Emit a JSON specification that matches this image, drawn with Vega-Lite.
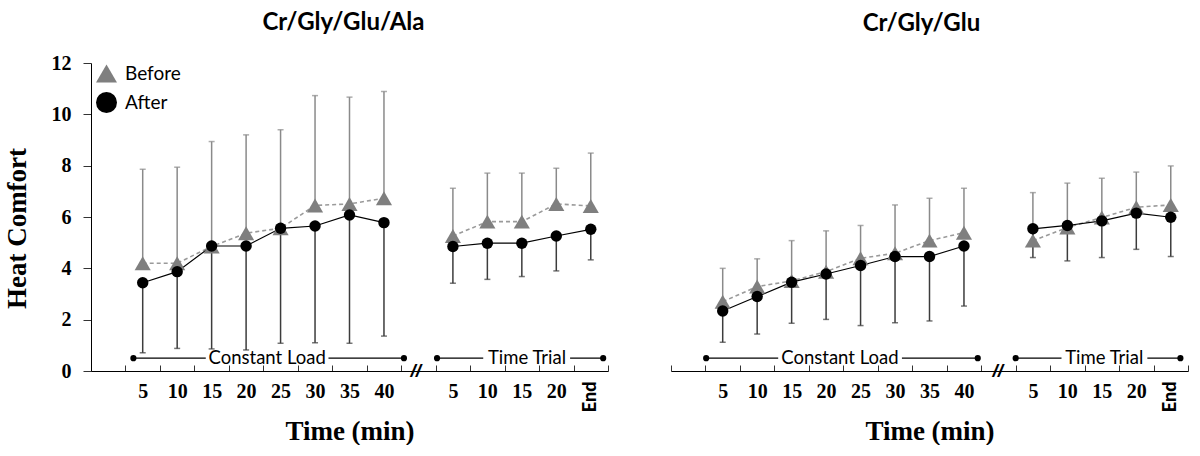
{
  "$schema": "https://vega.github.io/schema/vega-lite/v6.json",
  "background": "white",
  "padding": {"left": 3, "top": 11, "right": 5, "bottom": 0},
  "config": {
    "view": {"stroke": null},
    "concat": {"spacing": 61},
    "title": {"font": "Lato", "fontSize": 24, "fontWeight": "bold", "color": "#000000"}
  },
  "datasets": {
    "pts": [
      {"panel": "A", "phase": "CL", "slot": 1.5, "series": "Before", "mean": 4.2, "err": 7.86},
      {"panel": "A", "phase": "CL", "slot": 2.5, "series": "Before", "mean": 4.2, "err": 7.94},
      {"panel": "A", "phase": "CL", "slot": 3.5, "series": "Before", "mean": 4.85, "err": 8.94},
      {"panel": "A", "phase": "CL", "slot": 4.5, "series": "Before", "mean": 5.37, "err": 9.2},
      {"panel": "A", "phase": "CL", "slot": 5.5, "series": "Before", "mean": 5.56, "err": 9.4},
      {"panel": "A", "phase": "CL", "slot": 6.5, "series": "Before", "mean": 6.45, "err": 10.73},
      {"panel": "A", "phase": "CL", "slot": 7.5, "series": "Before", "mean": 6.51, "err": 10.67},
      {"panel": "A", "phase": "CL", "slot": 8.5, "series": "Before", "mean": 6.73, "err": 10.89},
      {"panel": "A", "phase": "TT", "slot": 10.5, "series": "Before", "mean": 5.26, "err": 7.12},
      {"panel": "A", "phase": "TT", "slot": 11.5, "series": "Before", "mean": 5.82, "err": 7.71},
      {"panel": "A", "phase": "TT", "slot": 12.5, "series": "Before", "mean": 5.82, "err": 7.71},
      {"panel": "A", "phase": "TT", "slot": 13.5, "series": "Before", "mean": 6.51, "err": 7.9},
      {"panel": "A", "phase": "TT", "slot": 14.5, "series": "Before", "mean": 6.43, "err": 8.49},
      {"panel": "B", "phase": "CL", "slot": 1.5, "series": "Before", "mean": 2.7, "err": 4.0},
      {"panel": "B", "phase": "CL", "slot": 2.5, "series": "Before", "mean": 3.29, "err": 4.37},
      {"panel": "B", "phase": "CL", "slot": 3.5, "series": "Before", "mean": 3.51, "err": 5.08},
      {"panel": "B", "phase": "CL", "slot": 4.5, "series": "Before", "mean": 3.87, "err": 5.46},
      {"panel": "B", "phase": "CL", "slot": 5.5, "series": "Before", "mean": 4.39, "err": 5.67},
      {"panel": "B", "phase": "CL", "slot": 6.5, "series": "Before", "mean": 4.59, "err": 6.47},
      {"panel": "B", "phase": "CL", "slot": 7.5, "series": "Before", "mean": 5.08, "err": 6.73},
      {"panel": "B", "phase": "CL", "slot": 8.5, "series": "Before", "mean": 5.39, "err": 7.12},
      {"panel": "B", "phase": "TT", "slot": 10.5, "series": "Before", "mean": 5.08, "err": 6.95},
      {"panel": "B", "phase": "TT", "slot": 11.5, "series": "Before", "mean": 5.59, "err": 7.32},
      {"panel": "B", "phase": "TT", "slot": 12.5, "series": "Before", "mean": 5.98, "err": 7.51},
      {"panel": "B", "phase": "TT", "slot": 13.5, "series": "Before", "mean": 6.38, "err": 7.75},
      {"panel": "B", "phase": "TT", "slot": 14.5, "series": "Before", "mean": 6.47, "err": 7.99},
      {"panel": "A", "phase": "CL", "slot": 1.5, "series": "After", "mean": 3.44, "err": 0.71},
      {"panel": "A", "phase": "CL", "slot": 2.5, "series": "After", "mean": 3.87, "err": 0.88},
      {"panel": "A", "phase": "CL", "slot": 3.5, "series": "After", "mean": 4.87, "err": 0.86},
      {"panel": "A", "phase": "CL", "slot": 4.5, "series": "After", "mean": 4.87, "err": 0.82},
      {"panel": "A", "phase": "CL", "slot": 5.5, "series": "After", "mean": 5.56, "err": 1.08},
      {"panel": "A", "phase": "CL", "slot": 6.5, "series": "After", "mean": 5.65, "err": 1.1},
      {"panel": "A", "phase": "CL", "slot": 7.5, "series": "After", "mean": 6.08, "err": 1.08},
      {"panel": "A", "phase": "CL", "slot": 8.5, "series": "After", "mean": 5.78, "err": 1.36},
      {"panel": "A", "phase": "TT", "slot": 10.5, "series": "After", "mean": 4.85, "err": 3.42},
      {"panel": "A", "phase": "TT", "slot": 11.5, "series": "After", "mean": 4.98, "err": 3.57},
      {"panel": "A", "phase": "TT", "slot": 12.5, "series": "After", "mean": 4.98, "err": 3.68},
      {"panel": "A", "phase": "TT", "slot": 13.5, "series": "After", "mean": 5.26, "err": 3.9},
      {"panel": "A", "phase": "TT", "slot": 14.5, "series": "After", "mean": 5.52, "err": 4.33},
      {"panel": "B", "phase": "CL", "slot": 1.5, "series": "After", "mean": 2.34, "err": 1.12},
      {"panel": "B", "phase": "CL", "slot": 2.5, "series": "After", "mean": 2.9, "err": 1.44},
      {"panel": "B", "phase": "CL", "slot": 3.5, "series": "After", "mean": 3.46, "err": 1.86},
      {"panel": "B", "phase": "CL", "slot": 4.5, "series": "After", "mean": 3.78, "err": 2.01},
      {"panel": "B", "phase": "CL", "slot": 5.5, "series": "After", "mean": 4.11, "err": 1.77},
      {"panel": "B", "phase": "CL", "slot": 6.5, "series": "After", "mean": 4.46, "err": 1.88},
      {"panel": "B", "phase": "CL", "slot": 7.5, "series": "After", "mean": 4.46, "err": 1.95},
      {"panel": "B", "phase": "CL", "slot": 8.5, "series": "After", "mean": 4.87, "err": 2.53},
      {"panel": "B", "phase": "TT", "slot": 10.5, "series": "After", "mean": 5.54, "err": 4.42},
      {"panel": "B", "phase": "TT", "slot": 11.5, "series": "After", "mean": 5.67, "err": 4.29},
      {"panel": "B", "phase": "TT", "slot": 12.5, "series": "After", "mean": 5.85, "err": 4.42},
      {"panel": "B", "phase": "TT", "slot": 13.5, "series": "After", "mean": 6.15, "err": 4.74},
      {"panel": "B", "phase": "TT", "slot": 14.5, "series": "After", "mean": 5.99, "err": 4.46}
    ],
    "segs": [
      {"panel": "A", "x1": 1.23, "x2": 3.33, "y": 0.5},
      {"panel": "A", "x1": 6.89, "x2": 9.08, "y": 0.5},
      {"panel": "A", "x1": 10.04, "x2": 11.38, "y": 0.5},
      {"panel": "A", "x1": 13.9, "x2": 14.86, "y": 0.5},
      {"panel": "B", "x1": 1.02, "x2": 3.11, "y": 0.5},
      {"panel": "B", "x1": 6.7, "x2": 8.9, "y": 0.5},
      {"panel": "B", "x1": 10.0, "x2": 11.33, "y": 0.5},
      {"panel": "B", "x1": 13.82, "x2": 14.78, "y": 0.5}
    ],
    "dots": [
      {"panel": "A", "x": 1.23, "y": 0.5},
      {"panel": "A", "x": 9.08, "y": 0.5},
      {"panel": "A", "x": 10.04, "y": 0.5},
      {"panel": "A", "x": 14.86, "y": 0.5},
      {"panel": "B", "x": 1.02, "y": 0.5},
      {"panel": "B", "x": 8.9, "y": 0.5},
      {"panel": "B", "x": 10.0, "y": 0.5},
      {"panel": "B", "x": 14.78, "y": 0.5}
    ],
    "labels": [
      {"panel": "A", "x": 5.11, "y": 0.5, "text": "Constant Load"},
      {"panel": "A", "x": 12.65, "y": 0.5, "text": "Time Trial"},
      {"panel": "B", "x": 4.9, "y": 0.5, "text": "Constant Load"},
      {"panel": "B", "x": 12.57, "y": 0.5, "text": "Time Trial"}
    ],
    "breaks": [
      {"panel": "A", "x": 9.42, "y": 0},
      {"panel": "B", "x": 9.48, "y": 0}
    ]
  },
  "hconcat": [
    {
      "width": 517,
      "height": 308,
      "title": {"text": "Cr/Gly/Glu/Ala", "dx": -6, "offset": 18},
      "layer": [
        {
          "data": {"name": "pts"},
          "transform": [{"filter": "datum.panel == 'A' && datum.series == 'Before'"}],
          "mark": {"type": "rule", "color": "#8a8a8a", "strokeWidth": 1.5},
          "encoding": {
            "x": {"field": "slot", "type": "quantitative",
              "scale": {"domain": [0, 15], "nice": false, "zero": false},
              "axis": {
                "title": "Time (min)",
                "titleFont": "Liberation Serif", "titleFontSize": 27, "titleFontWeight": "bold", "titleColor": "#000",
                "titlePadding": 7,
                "tickCount": 100,
                "values": [0, 1, 1.5, 2, 2.5, 3, 3.5, 4, 4.5, 5, 5.5, 6, 6.5, 7, 7.5, 8, 8.5, 9, 10, 10.5, 11, 11.5, 12, 12.5, 13, 13.5, 14, 14.5, 15],
                "labelExpr": "datum.value % 1 == 0 ? '' : datum.value < 9 ? format((datum.value - 0.5) * 5, 'd') : datum.value < 14 ? format((datum.value - 9.5) * 5, 'd') : 'End'",
                "labelFont": {"condition": {"test": "datum.value == 14.5", "value": "Lato"}, "value": "Liberation Serif"},
                "labelFontSize": {"condition": {"test": "datum.value == 14.5", "value": 18}, "value": 20},
                "labelFontWeight": {"condition": {"test": "datum.value == 14.5", "value": 900}, "value": "bold"},
                "labelColor": "#000",
                "labelAngle": {"expr": "datum.value == 14.5 ? 270 : 0"},
                "labelAlign": {"condition": {"test": "datum.value == 14.5", "value": "right"}, "value": "center"},
                "labelBaseline": {"condition": {"test": "datum.value == 14.5", "value": "middle"}, "value": "top"},
                "labelOverlap": false,
                "labelFlush": false,
                "labelPadding": 16,
                "tickSize": -6,
                "tickColor": "#333",
                "tickOpacity": {"condition": {"test": "datum.value % 1 != 0", "value": 0}, "value": 1},
                "domainColor": "#000",
                "grid": false
              }},
            "y": {"field": "mean", "type": "quantitative",
              "scale": {"domain": [0, 12], "nice": false, "zero": true},
              "axis": {
                "title": "Heat Comfort",
                "titleFont": "Liberation Serif", "titleFontSize": 27, "titleFontWeight": "bold", "titleColor": "#000",
                "titlePadding": 20,
                "titleY": 165,
                "values": [0, 2, 4, 6, 8, 10, 12],
                "labelFont": "Liberation Serif", "labelFontSize": 20, "labelFontWeight": "bold", "labelColor": "#000",
                "labelPadding": 12,
                "tickSize": 8, "tickColor": "#333",
                "domainColor": "#000",
                "grid": false
              }},
            "y2": {"field": "err"}
          }
        },
        {
          "data": {"name": "pts"},
          "transform": [{"filter": "datum.panel == 'A' && datum.series == 'Before'"}],
          "mark": {"type": "tick", "orient": "horizontal", "size": 6, "thickness": 1.5, "color": "#8a8a8a"},
          "encoding": {
            "x": {"field": "slot", "type": "quantitative"},
            "y": {"field": "err", "type": "quantitative"}
          }
        },
        {
          "data": {"name": "pts"},
          "transform": [{"filter": "datum.panel == 'A' && datum.series == 'After'"}],
          "mark": {"type": "rule", "color": "#3c3c3c", "strokeWidth": 1.5},
          "encoding": {
            "x": {"field": "slot", "type": "quantitative"},
            "y": {"field": "mean", "type": "quantitative"},
            "y2": {"field": "err"}
          }
        },
        {
          "data": {"name": "pts"},
          "transform": [{"filter": "datum.panel == 'A' && datum.series == 'After'"}],
          "mark": {"type": "tick", "orient": "horizontal", "size": 6, "thickness": 1.5, "color": "#3c3c3c"},
          "encoding": {
            "x": {"field": "slot", "type": "quantitative"},
            "y": {"field": "err", "type": "quantitative"}
          }
        },
        {
          "data": {"name": "pts"},
          "transform": [{"filter": "datum.panel == 'A' && datum.series == 'Before'"}],
          "mark": {"type": "line", "color": "#9a9a9a", "strokeWidth": 1.6, "strokeDash": [4, 3]},
          "encoding": {
            "x": {"field": "slot", "type": "quantitative"},
            "y": {"field": "mean", "type": "quantitative"},
            "detail": {"field": "phase"}
          }
        },
        {
          "data": {"name": "pts"},
          "transform": [{"filter": "datum.panel == 'A' && datum.series == 'After'"}],
          "mark": {"type": "line", "color": "#000000", "strokeWidth": 1.2},
          "encoding": {
            "x": {"field": "slot", "type": "quantitative"},
            "y": {"field": "mean", "type": "quantitative"},
            "detail": {"field": "phase"}
          }
        },
        {
          "data": {"name": "pts"},
          "transform": [{"filter": "datum.panel == 'A' && datum.series == 'Before'"}],
          "mark": {"type": "point", "filled": true, "opacity": 1, "strokeWidth": 0, "size": 260},
          "encoding": {
            "x": {"field": "slot", "type": "quantitative"},
            "y": {"field": "mean", "type": "quantitative"},
            "fill": {"field": "series", "type": "nominal",
              "scale": {"domain": ["Before", "After"], "range": ["#7f7f7f", "#000000"]},
              "legend": {"title": null, "orient": "none", "legendX": 5, "legendY": 0,
                "labelFont": "Lato", "labelFontSize": 19, "labelColor": "#000",
                "symbolSize": 440, "symbolStrokeWidth": 0, "rowPadding": 8, "labelOffset": 8}},
            "shape": {"field": "series", "type": "nominal",
              "scale": {"domain": ["Before", "After"], "range": ["triangle-up", "circle"]},
              "legend": {"title": null, "orient": "none", "legendX": 5, "legendY": 0,
                "labelFont": "Lato", "labelFontSize": 19, "labelColor": "#000",
                "symbolSize": 440, "symbolStrokeWidth": 0, "rowPadding": 8, "labelOffset": 8}}
          }
        },
        {
          "data": {"name": "pts"},
          "transform": [{"filter": "datum.panel == 'A' && datum.series == 'After'"}],
          "mark": {"type": "point", "filled": true, "opacity": 1, "strokeWidth": 0, "size": 130},
          "encoding": {
            "x": {"field": "slot", "type": "quantitative"},
            "y": {"field": "mean", "type": "quantitative"},
            "fill": {"field": "series", "type": "nominal"},
            "shape": {"field": "series", "type": "nominal"}
          }
        },
        {
          "data": {"name": "segs"},
          "transform": [{"filter": "datum.panel == 'A'"}],
          "mark": {"type": "rule", "color": "#000", "strokeWidth": 1.2},
          "encoding": {
            "x": {"field": "x1", "type": "quantitative"},
            "x2": {"field": "x2"},
            "y": {"field": "y", "type": "quantitative"}
          }
        },
        {
          "data": {"name": "dots"},
          "transform": [{"filter": "datum.panel == 'A'"}],
          "mark": {"type": "point", "filled": true, "color": "#000", "size": 38, "opacity": 1},
          "encoding": {
            "x": {"field": "x", "type": "quantitative"},
            "y": {"field": "y", "type": "quantitative"}
          }
        },
        {
          "data": {"name": "labels"},
          "transform": [{"filter": "datum.panel == 'A'"}],
          "mark": {"type": "text", "font": "Lato", "fontSize": 18.5, "color": "#000", "baseline": "middle"},
          "encoding": {
            "x": {"field": "x", "type": "quantitative"},
            "y": {"field": "y", "type": "quantitative"},
            "text": {"field": "text"}
          }
        },
        {
          "data": {"name": "breaks"},
          "transform": [{"filter": "datum.panel == 'A'"}],
          "mark": {"type": "text", "text": "//", "font": "Liberation Sans", "fontSize": 19, "fontStyle": "italic", "fontWeight": "bold", "color": "#000", "baseline": "middle"},
          "encoding": {
            "x": {"field": "x", "type": "quantitative"},
            "y": {"field": "y", "type": "quantitative"}
          }
        }
      ]
    },
    {
      "width": 517,
      "height": 308,
      "title": {"text": "Cr/Gly/Glu", "dx": -8, "offset": 27},
      "layer": [
        {
          "data": {"name": "pts"},
          "transform": [{"filter": "datum.panel == 'B' && datum.series == 'Before'"}],
          "mark": {"type": "rule", "color": "#8a8a8a", "strokeWidth": 1.5},
          "encoding": {
            "x": {"field": "slot", "type": "quantitative",
              "scale": {"domain": [0, 15], "nice": false, "zero": false},
              "axis": {
                "title": "Time (min)",
                "titleFont": "Liberation Serif", "titleFontSize": 27, "titleFontWeight": "bold", "titleColor": "#000",
                "titlePadding": 7,
                "tickCount": 100,
                "values": [0, 1, 1.5, 2, 2.5, 3, 3.5, 4, 4.5, 5, 5.5, 6, 6.5, 7, 7.5, 8, 8.5, 9, 10, 10.5, 11, 11.5, 12, 12.5, 13, 13.5, 14, 14.5, 15],
                "labelExpr": "datum.value % 1 == 0 ? '' : datum.value < 9 ? format((datum.value - 0.5) * 5, 'd') : datum.value < 14 ? format((datum.value - 9.5) * 5, 'd') : 'End'",
                "labelFont": {"condition": {"test": "datum.value == 14.5", "value": "Lato"}, "value": "Liberation Serif"},
                "labelFontSize": {"condition": {"test": "datum.value == 14.5", "value": 18}, "value": 20},
                "labelFontWeight": {"condition": {"test": "datum.value == 14.5", "value": 900}, "value": "bold"},
                "labelColor": "#000",
                "labelAngle": {"expr": "datum.value == 14.5 ? 270 : 0"},
                "labelAlign": {"condition": {"test": "datum.value == 14.5", "value": "right"}, "value": "center"},
                "labelBaseline": {"condition": {"test": "datum.value == 14.5", "value": "middle"}, "value": "top"},
                "labelOverlap": false,
                "labelFlush": false,
                "labelPadding": 16,
                "tickSize": -6,
                "tickColor": "#333",
                "tickOpacity": {"condition": {"test": "datum.value % 1 != 0", "value": 0}, "value": 1},
                "domainColor": "#000",
                "grid": false
              }},
            "y": {"field": "mean", "type": "quantitative",
              "scale": {"domain": [0, 12], "nice": false, "zero": true},
              "axis": null},
            "y2": {"field": "err"}
          }
        },
        {
          "data": {"name": "pts"},
          "transform": [{"filter": "datum.panel == 'B' && datum.series == 'Before'"}],
          "mark": {"type": "tick", "orient": "horizontal", "size": 6, "thickness": 1.5, "color": "#8a8a8a"},
          "encoding": {
            "x": {"field": "slot", "type": "quantitative"},
            "y": {"field": "err", "type": "quantitative", "axis": null}
          }
        },
        {
          "data": {"name": "pts"},
          "transform": [{"filter": "datum.panel == 'B' && datum.series == 'After'"}],
          "mark": {"type": "rule", "color": "#3c3c3c", "strokeWidth": 1.5},
          "encoding": {
            "x": {"field": "slot", "type": "quantitative"},
            "y": {"field": "mean", "type": "quantitative", "axis": null},
            "y2": {"field": "err"}
          }
        },
        {
          "data": {"name": "pts"},
          "transform": [{"filter": "datum.panel == 'B' && datum.series == 'After'"}],
          "mark": {"type": "tick", "orient": "horizontal", "size": 6, "thickness": 1.5, "color": "#3c3c3c"},
          "encoding": {
            "x": {"field": "slot", "type": "quantitative"},
            "y": {"field": "err", "type": "quantitative", "axis": null}
          }
        },
        {
          "data": {"name": "pts"},
          "transform": [{"filter": "datum.panel == 'B' && datum.series == 'Before'"}],
          "mark": {"type": "line", "color": "#9a9a9a", "strokeWidth": 1.6, "strokeDash": [4, 3]},
          "encoding": {
            "x": {"field": "slot", "type": "quantitative"},
            "y": {"field": "mean", "type": "quantitative", "axis": null},
            "detail": {"field": "phase"}
          }
        },
        {
          "data": {"name": "pts"},
          "transform": [{"filter": "datum.panel == 'B' && datum.series == 'After'"}],
          "mark": {"type": "line", "color": "#000000", "strokeWidth": 1.2},
          "encoding": {
            "x": {"field": "slot", "type": "quantitative"},
            "y": {"field": "mean", "type": "quantitative", "axis": null},
            "detail": {"field": "phase"}
          }
        },
        {
          "data": {"name": "pts"},
          "transform": [{"filter": "datum.panel == 'B' && datum.series == 'Before'"}],
          "mark": {"type": "point", "filled": true, "opacity": 1, "strokeWidth": 0, "size": 260, "shape": "triangle-up", "color": "#7f7f7f"},
          "encoding": {
            "x": {"field": "slot", "type": "quantitative"},
            "y": {"field": "mean", "type": "quantitative", "axis": null}
          }
        },
        {
          "data": {"name": "pts"},
          "transform": [{"filter": "datum.panel == 'B' && datum.series == 'After'"}],
          "mark": {"type": "point", "filled": true, "opacity": 1, "strokeWidth": 0, "size": 130, "shape": "circle", "color": "#000000"},
          "encoding": {
            "x": {"field": "slot", "type": "quantitative"},
            "y": {"field": "mean", "type": "quantitative", "axis": null}
          }
        },
        {
          "data": {"name": "segs"},
          "transform": [{"filter": "datum.panel == 'B'"}],
          "mark": {"type": "rule", "color": "#000", "strokeWidth": 1.2},
          "encoding": {
            "x": {"field": "x1", "type": "quantitative"},
            "x2": {"field": "x2"},
            "y": {"field": "y", "type": "quantitative", "axis": null}
          }
        },
        {
          "data": {"name": "dots"},
          "transform": [{"filter": "datum.panel == 'B'"}],
          "mark": {"type": "point", "filled": true, "color": "#000", "size": 38, "opacity": 1},
          "encoding": {
            "x": {"field": "x", "type": "quantitative"},
            "y": {"field": "y", "type": "quantitative", "axis": null}
          }
        },
        {
          "data": {"name": "labels"},
          "transform": [{"filter": "datum.panel == 'B'"}],
          "mark": {"type": "text", "font": "Lato", "fontSize": 18.5, "color": "#000", "baseline": "middle"},
          "encoding": {
            "x": {"field": "x", "type": "quantitative"},
            "y": {"field": "y", "type": "quantitative", "axis": null},
            "text": {"field": "text"}
          }
        },
        {
          "data": {"name": "breaks"},
          "transform": [{"filter": "datum.panel == 'B'"}],
          "mark": {"type": "text", "text": "//", "font": "Liberation Sans", "fontSize": 19, "fontStyle": "italic", "fontWeight": "bold", "color": "#000", "baseline": "middle"},
          "encoding": {
            "x": {"field": "x", "type": "quantitative"},
            "y": {"field": "y", "type": "quantitative", "axis": null}
          }
        }
      ]
    }
  ],
  "resolve": {"scale": {"x": "independent", "y": "independent"}}
}
